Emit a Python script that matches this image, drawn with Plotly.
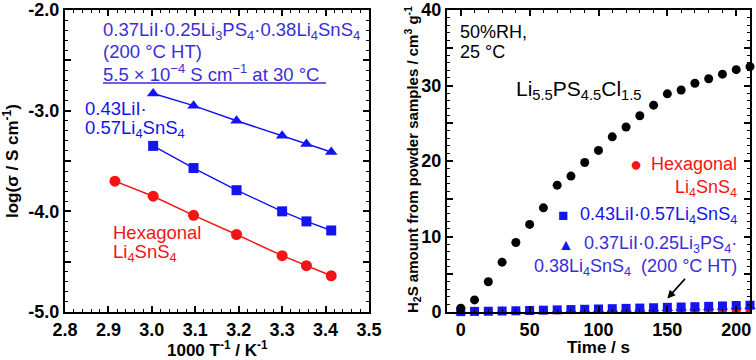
import plotly.graph_objects as go

# ---------------- data ----------------
inv_T_hex = [2.915, 3.003, 3.096, 3.195, 3.300, 3.356, 3.413]
log_sigma_hex = [-3.70, -3.85, -4.04, -4.23, -4.44, -4.54, -4.64]
inv_T = [3.003, 3.096, 3.195, 3.300, 3.356, 3.413]
log_sigma_LiI = [-3.35, -3.57, -3.79, -4.00, -4.10, -4.19]
log_sigma_HT = [-2.83, -2.95, -3.10, -3.25, -3.33, -3.41]

time_s = [0, 10, 20, 30, 40, 50, 60, 70, 80, 90, 100, 110, 120, 130, 140, 150,
          160, 170, 180, 190, 200, 210]
h2s_LPSCl = [0.5, 1.6, 4.0, 6.6, 9.2, 11.6, 13.8, 16.8, 18.0, 19.8, 21.4, 23.2,
             24.5, 26.0, 27.4, 28.9, 29.4, 30.3, 30.9, 31.5, 32.1, 32.5]
h2s_hex = [0.0, 0.0, 0.0, 0.0, 0.0, 0.0, 0.0, 0.0, 0.0, 0.02, 0.03, 0.04, 0.05,
           0.05, 0.06, 0.07, 0.08, 0.09, 0.1, 0.1, 0.12, 0.13]
h2s_LiI = [0.05, 0.08, 0.1, 0.13, 0.16, 0.2, 0.24, 0.28, 0.32, 0.36, 0.4, 0.44,
           0.48, 0.52, 0.56, 0.62, 0.66, 0.7, 0.75, 0.8, 0.86, 0.9]
h2s_HT = [0.03, 0.05, 0.07, 0.1, 0.12, 0.15, 0.18, 0.21, 0.24, 0.27, 0.3, 0.33,
          0.36, 0.4, 0.44, 0.48, 0.52, 0.56, 0.6, 0.64, 0.68, 0.72]

left_yticks = [-5.0, -4.5, -4.0, -3.5, -3.0, -2.5, -2.0]
left_ylabels = ["-5.0", "", "-4.0", "", "-3.0", "", "-2.0"]
right_yticks = [0, 5, 10, 15, 20, 25, 30, 35, 40]
right_ylabels = ["0", "", "10", "", "20", "", "30", "", "40"]

RED = "#f41414"
BLUE = "#1414f0"
VIOLET = "#3a2ed8"
FONT = "Liberation Sans, Arial, sans-serif"

W, H = 756, 360
ML, MR, MT, MB = 65, 6, 10, 48
PW, PH = W - ML - MR, H - MT - MB


def px(x):
    return (x - ML) / PW


def py(y):
    return (H - MB - y) / PH


fig = go.Figure()

# left panel
fig.add_trace(go.Scatter(x=inv_T_hex, y=log_sigma_hex, mode="lines+markers",
                         line=dict(color=RED, width=1.5),
                         marker=dict(symbol="circle", size=11, color=RED),
                         xaxis="x", yaxis="y", showlegend=False))
fig.add_trace(go.Scatter(x=inv_T, y=log_sigma_LiI, mode="lines+markers",
                         line=dict(color=BLUE, width=1.5),
                         marker=dict(symbol="square", size=10, color=BLUE),
                         xaxis="x", yaxis="y", showlegend=False))
fig.add_trace(go.Scatter(x=inv_T, y=log_sigma_HT, mode="lines+markers",
                         line=dict(color=BLUE, width=1.5),
                         marker=dict(symbol="triangle-up", size=11, color=BLUE),
                         xaxis="x", yaxis="y", showlegend=False))

# right panel
fig.add_trace(go.Scatter(x=time_s, y=h2s_hex, mode="markers",
                         marker=dict(symbol="circle", size=9, color=RED),
                         xaxis="x2", yaxis="y2", showlegend=False))
fig.add_trace(go.Scatter(x=time_s, y=h2s_HT, mode="markers",
                         marker=dict(symbol="triangle-up", size=10, color=BLUE),
                         xaxis="x2", yaxis="y2", showlegend=False, cliponaxis=False))
fig.add_trace(go.Scatter(x=time_s, y=h2s_LiI, mode="markers",
                         marker=dict(symbol="square", size=9, color=BLUE),
                         xaxis="x2", yaxis="y2", showlegend=False, cliponaxis=False))
fig.add_trace(go.Scatter(x=time_s, y=h2s_LPSCl, mode="markers",
                         marker=dict(symbol="circle", size=9, color="black"),
                         xaxis="x2", yaxis="y2", showlegend=False, cliponaxis=False))

axis_common = dict(showline=True, linecolor="black", linewidth=2, mirror="allticks",
                   ticks="inside", ticklen=6, tickwidth=1.5, tickcolor="black",
                   showgrid=False, zeroline=False, automargin=False,
                   tickfont=dict(family=FONT, size=18, color="black", weight="bold"))
minor_common = dict(ticks="inside", ticklen=3, tickwidth=1.2, tickcolor="black", showgrid=False)

fig.update_layout(
    width=W, height=H,
    margin=dict(l=ML, r=MR, t=MT, b=MB),
    paper_bgcolor="white", plot_bgcolor="white",
    font=dict(family=FONT, color="black"),
    xaxis=dict(axis_common, domain=[0, px(369)], range=[2.8, 3.5], dtick=0.1, tick0=2.8,
               tickformat=".1f", anchor="y",
               minor=dict(minor_common, dtick=0.02)),
    yaxis=dict(axis_common, domain=[0, 1], range=[-5, -2], tickmode="array",
               tickvals=left_yticks, ticktext=left_ylabels, anchor="x",
               minor=dict(minor_common, dtick=0.1)),
    xaxis2=dict(axis_common, domain=[px(447), px(750)], range=[-10, 210], tickmode="array",
                tickvals=[0, 50, 100, 150, 200], anchor="y2",
                minor=dict(minor_common, dtick=10, tick0=0)),
    yaxis2=dict(axis_common, domain=[0, 1], range=[0, 40], tickmode="array",
                tickvals=right_yticks, ticktext=right_ylabels, anchor="x2",
                minor=dict(minor_common, dtick=1)),
)


def note(text, x, y, color, size=18, xanchor="left", bold=False, angle=0):
    fig.add_annotation(text=text, x=px(x), y=py(y), xref="paper", yref="paper",
                       xanchor=xanchor, yanchor="middle", showarrow=False,
                       textangle=angle,
                       font=dict(family=FONT, size=size, color=color,
                                 weight="bold" if bold else "normal"))


# axis titles
note("1000 T<sup>-1</sup> / K<sup>-1</sup>", 217, 349, "black", size=17, xanchor="center", bold=True)
note("Time / s", 598, 347, "black", size=17, xanchor="center", bold=True)
note("log(σ / S cm<sup>-1</sup>)", 11, 161, "black", size=17, xanchor="center", bold=True, angle=-90)
note("H<sub>2</sub>S amount from powder samples / cm<sup>3</sup> g<sup>-1</sup>", 412, 160, "black",
     size=15, xanchor="center", bold=True, angle=-90)

# left annotations
note("0.37LiI·0.25Li<sub>3</sub>PS<sub>4</sub>·0.38Li<sub>4</sub>SnS<sub>4</sub>", 101, 31, VIOLET, size=18.5)
note("(200 °C HT)", 101, 51, VIOLET, size=18.5)
note("5.5 × 10<sup>−4</sup> S cm<sup>−1</sup> at 30 °C", 101, 73, VIOLET, size=18.5)
fig.add_shape(type="line", xref="paper", yref="paper", x0=px(103), x1=px(326),
              y0=py(83), y1=py(83), line=dict(color=VIOLET, width=1.3))
note("0.43LiI·", 83, 108, BLUE, size=18.5)
note("0.57Li<sub>4</sub>SnS<sub>4</sub>", 83, 129, BLUE, size=18.5)
note("Hexagonal", 111, 232, RED, size=18.5)
note("Li<sub>4</sub>SnS<sub>4</sub>", 111, 253, RED, size=18.5)

# right annotations
note("50%RH,", 458, 32, "black")
note("25 °C", 458, 52, "black")
note("Li<sub>5.5</sub>PS<sub>4.5</sub>Cl<sub>1.5</sub>", 514, 90, "black", size=21)

note("●", 636, 164, RED, size=20, xanchor="center")
note("Hexagonal", 739, 164, RED, xanchor="right")
note("Li<sub>4</sub>SnS<sub>4</sub>", 739, 188, RED, xanchor="right")
note("■", 563, 215, BLUE, size=17, xanchor="center")
note("0.43LiI·0.57Li<sub>4</sub>SnS<sub>4</sub>", 739, 215, BLUE, xanchor="right")
note("▲", 566, 244, BLUE, size=16, xanchor="center")
note("0.37LiI·0.25Li<sub>3</sub>PS<sub>4</sub>·", 739, 244, VIOLET, xanchor="right")
note("0.38Li<sub>4</sub>SnS<sub>4</sub>  (200 °C HT)", 739, 267, VIOLET, xanchor="right")

fig.add_annotation(x=150, y=1.8, xref="x2", yref="y2", text="", showarrow=True,
                   ax=19, ay=-21, arrowhead=2, arrowsize=1, arrowwidth=1.6,
                   arrowcolor="black")

fig.write_html("out.html", config={"displayModeBar": False},
               post_script="document.body.style.margin='0px';")
